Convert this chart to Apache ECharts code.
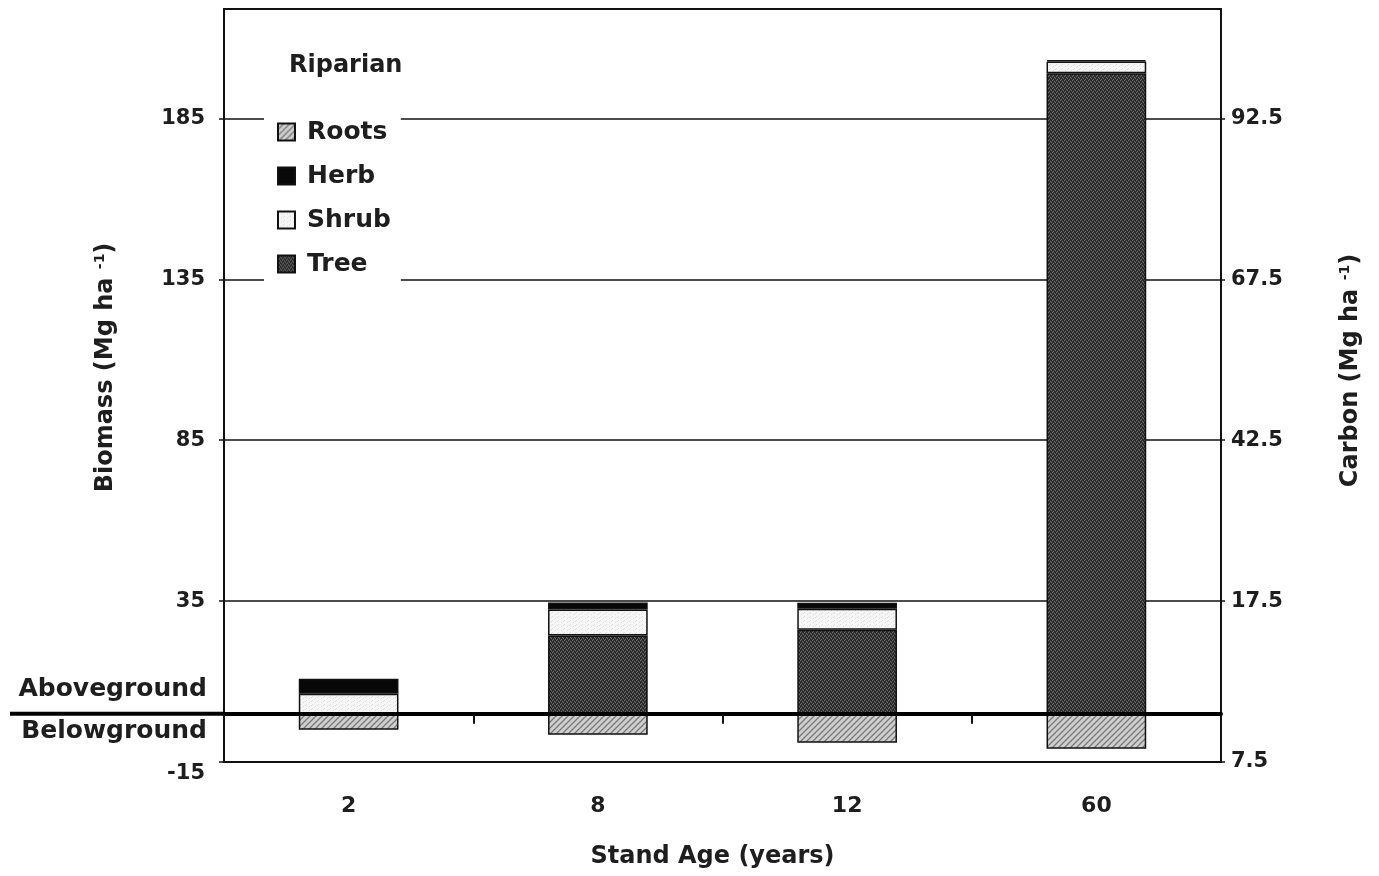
<!DOCTYPE html>
<html><head><meta charset="utf-8">
<script src="https://cdn.jsdelivr.net/npm/echarts@6/dist/echarts.min.js"></script>
<style>html,body{margin:0;padding:0;background:#fff}#c{width:1379px;height:876px}</style>
</head><body><div id="c"></div>
<script>
// ---- data ----
const categories = ['2', '8', '12', '60'];
const treeValues = [0, 24.3, 26.1, 199];
const shrubValues = [6.2, 8.1, 6.5, 3.7];
const herbValues = [4.7, 2.2, 1.9, 0.4];
const rootsValues = [-5.0, -6.5, -9.0, -10.9];
const biomassTicks = [-15, 35, 85, 135, 185];
const carbonTicks = [-7.5, 17.5, 42.5, 67.5, 92.5];
const carbonTickLabels = ['7.5', '17.5', '42.5', '67.5', '92.5'];
const legendOrder = ['Roots', 'Herb', 'Shrub', 'Tree'];

// ---- fill patterns ----
function mk(w, h, draw) { const c = document.createElement('canvas'); c.width = w; c.height = h; draw(c.getContext('2d')); return c; }
const rootsPat = mk(6, 6, g => {
  g.fillStyle = '#cfcfcf'; g.fillRect(0, 0, 6, 6);
  g.strokeStyle = '#787878'; g.lineWidth = 1.3;
  g.beginPath();
  g.moveTo(-1, 7); g.lineTo(7, -1);
  g.moveTo(-4, 4); g.lineTo(4, -4);
  g.moveTo(2, 10); g.lineTo(10, 2);
  g.stroke();
});
const treePat = mk(4, 4, g => {
  g.fillStyle = '#383838'; g.fillRect(0, 0, 4, 4);
  g.fillStyle = '#686868';
  [[0,0],[2,1],[1,3],[3,2]].forEach(p => g.fillRect(p[0], p[1], 1, 1));
  g.fillStyle = '#222222';
  [[1,1],[3,0],[0,2],[2,3]].forEach(p => g.fillRect(p[0], p[1], 1, 1));
});
const shrubPat = mk(6, 4, g => {
  g.fillStyle = '#f5f5f5'; g.fillRect(0, 0, 6, 4);
  g.fillStyle = '#dedede';
  [[0,0],[3,2],[5,1]].forEach(p => g.fillRect(p[0], p[1], 1, 1));
});

const FONT = '"DejaVu Sans", "Liberation Sans", Arial, sans-serif';
const TXT = '#1e1e1e';
const border = { borderColor: '#111', borderWidth: 1.5 };

function nameRich() {
  return {
    a: { fontFamily: FONT, fontSize: 24, fontWeight: 'bold', color: TXT },
    s: { fontFamily: FONT, fontSize: 14, fontWeight: 'bold', color: TXT, verticalAlign: 'top', padding: [0, 0, 11, 0] }
  };
}

const chart = echarts.init(document.getElementById('c'), null, { renderer: 'canvas' });
chart.setOption({
  animation: false,
  backgroundColor: '#fff',
  textStyle: { fontFamily: FONT },
  title: {
    text: 'Riparian', left: 284, top: 49,
    textStyle: { fontFamily: FONT, fontSize: 24, fontWeight: 'bold', color: TXT }
  },
  legend: {
    data: legendOrder, orient: 'vertical', left: 264, top: 107,
    padding: [12, 10, 12, 13], backgroundColor: '#fff',
    itemWidth: 17, itemHeight: 17, itemGap: 18, icon: 'rect',
    textStyle: { fontFamily: FONT, fontSize: 25, fontWeight: 'bold', color: TXT, lineHeight: 26, padding: [0, 0, 0, 7] }
  },
  grid: { left: 224, right: 158, top: 9, bottom: 114, show: true, borderColor: '#111', borderWidth: 2, backgroundColor: 'transparent', containLabel: false },
  xAxis: [{
    type: 'category', data: categories, position: 'bottom',
    axisLine: { onZero: false, lineStyle: { color: '#111', width: 2 } },
    axisTick: { show: false },
    axisLabel: { margin: 33, fontFamily: FONT, fontSize: 22, fontWeight: 'bold', color: TXT },
    name: 'Stand Age (years)', nameLocation: 'middle', nameGap: 83,
    nameTextStyle: { fontFamily: FONT, fontSize: 24, fontWeight: 'bold', color: TXT, padding: [0, 20, 0, 0] }
  }, {
    type: 'category', data: categories, position: 'top', z: 10,
    axisLine: { onZero: true, onZeroAxisIndex: 0, lineStyle: { color: '#000', width: 4 } },
    axisTick: { show: true, inside: true, length: 10, lineStyle: { color: '#111', width: 2 } },
    axisLabel: { show: false }
  }],
  yAxis: [{
    type: 'value', min: -15, max: 219, interval: 50, position: 'left',
    axisLine: { show: true, lineStyle: { color: '#111', width: 2 } },
    axisTick: { show: true, length: 5, lineStyle: { color: '#111', width: 1.5 } },
    axisLabel: {
      showMaxLabel: false, margin: 19, fontFamily: FONT, fontSize: 21, fontWeight: 'bold', color: TXT,
      formatter: v => biomassTicks.indexOf(v) >= 0 ? (v < 0 ? '{low|' + v + '}' : String(v)) : '',
      rich: { low: { fontFamily: FONT, fontSize: 21, fontWeight: 'bold', color: TXT, padding: [24, 0, 0, 0] } }
    },
    splitLine: { show: true, lineStyle: { color: '#111', width: 1.5 } },
    name: '{a|Biomass (Mg ha }{s|-1}{a|)}', nameLocation: 'middle', nameGap: 106, nameRotate: 90,
    nameTextStyle: { rich: nameRich(), padding: [0, 0, 0, 36] }
  }, {
    type: 'value', min: -7.5, max: 109.5, interval: 25, position: 'right',
    axisLine: { show: true, lineStyle: { color: '#111', width: 2 } },
    axisTick: { show: true, length: 4, lineStyle: { color: '#111', width: 1.5 } },
    axisLabel: {
      showMaxLabel: false, margin: 10, fontFamily: FONT, fontSize: 21, fontWeight: 'bold', color: TXT,
      formatter: v => { const i = carbonTicks.indexOf(v); return i >= 0 ? carbonTickLabels[i] : ''; }
    },
    splitLine: { show: false },
    name: '{a|Carbon (Mg ha }{s|-1}{a|)}', nameLocation: 'middle', nameGap: 117, nameRotate: 90,
    nameTextStyle: { rich: nameRich(), padding: [0, 0, 0, 30] }
  }],
  series: [
    { name: 'Tree', type: 'bar', stack: 'a', xAxisIndex: 0, yAxisIndex: 0, barWidth: '40%', data: treeValues,
      itemStyle: Object.assign({ color: { image: treePat, repeat: 'repeat' } }, border) },
    { name: 'Shrub', type: 'bar', stack: 'a', xAxisIndex: 0, yAxisIndex: 0, barWidth: '40%', data: shrubValues,
      itemStyle: Object.assign({ color: { image: shrubPat, repeat: 'repeat' } }, border) },
    { name: 'Herb', type: 'bar', stack: 'a', xAxisIndex: 0, yAxisIndex: 0, barWidth: '40%', data: herbValues,
      itemStyle: Object.assign({ color: '#080808' }, border) },
    { name: 'Roots', type: 'bar', stack: 'a', xAxisIndex: 0, yAxisIndex: 0, barWidth: '40%', data: rootsValues,
      itemStyle: Object.assign({ color: { image: rootsPat, repeat: 'repeat' } }, border) }
  ]
});

// zero-line extension and side annotations, placed from the axis scale
const y0 = chart.convertToPixel({ yAxisIndex: 0 }, 0);
const gx = chart.getModel().getComponent('grid', 0).coordinateSystem.getRect().x;
chart.setOption({
  graphic: [
    { type: 'line', shape: { x1: 10, y1: y0, x2: gx, y2: y0 }, style: { stroke: '#000', lineWidth: 4 }, z: 10 },
    { type: 'text', x: 207, y: y0 - 12, style: { text: 'Aboveground', align: 'right', verticalAlign: 'bottom', font: 'bold 25px ' + FONT, fill: TXT } },
    { type: 'text', x: 207, y: y0 + 5, style: { text: 'Belowground', align: 'right', verticalAlign: 'top', font: 'bold 25px ' + FONT, fill: TXT } }
  ]
});
</script></body></html>
